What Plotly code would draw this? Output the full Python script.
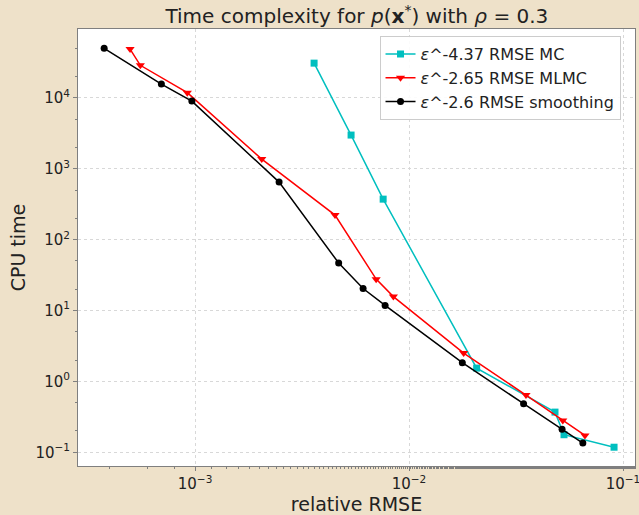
import plotly.graph_objects as go

# Data (relative RMSE, CPU time)
mc_rmse = [3.6e-3, 5.36e-3, 7.57e-3, 0.0207, 0.0481, 0.053, 0.0908]
mc_time = [3.08e4, 2980, 372, 1.54, 0.369, 0.177, 0.118]

mlmc_rmse = [4.97e-4, 5.55e-4, 9.2e-4, 2.05e-3, 4.51e-3, 7.02e-3, 8.45e-3, 0.018, 0.0352, 0.0523, 0.0664]
mlmc_time = [4.87e4, 2.87e4, 1.18e4, 1365, 222, 27.7, 15.7, 2.51, 0.641, 0.282, 0.173]

sm_rmse = [3.76e-4, 6.96e-4, 9.66e-4, 2.47e-3, 4.69e-3, 6.1e-3, 7.73e-3, 0.01774, 0.0343, 0.0519, 0.0649]
sm_time = [4.98e4, 1.56e4, 8980, 647, 46.7, 20.4, 11.8, 1.84, 0.485, 0.212, 0.135]

labels = ["<i>ε</i>^-4.37 RMSE MC", "<i>ε</i>^-2.65 RMSE MLMC", "<i>ε</i>^-2.6 RMSE smoothing"]

x_tickvals = [1e-3, 1e-2, 1e-1]
x_ticktext = ["10<sup>−3</sup>", "10<sup>−2</sup>", "10<sup>−1</sup>"]
y_tickvals = [1e-1, 1e0, 1e1, 1e2, 1e3, 1e4]
y_ticktext = ["10<sup>−1</sup>", "10<sup>0</sup>", "10<sup>1</sup>", "10<sup>2</sup>", "10<sup>3</sup>", "10<sup>4</sup>"]

fig = go.Figure()
fig.add_trace(go.Scatter(x=mc_rmse, y=mc_time, mode="lines+markers", name=labels[0],
                         line=dict(color="#00BFBF", width=1.5),
                         marker=dict(symbol="square", size=7, color="#00BFBF")))
fig.add_trace(go.Scatter(x=mlmc_rmse, y=mlmc_time, mode="lines+markers", name=labels[1],
                         line=dict(color="#FF0000", width=1.5),
                         marker=dict(symbol="triangle-down", size=8, color="#FF0000")))
fig.add_trace(go.Scatter(x=sm_rmse, y=sm_time, mode="lines+markers", name=labels[2],
                         line=dict(color="#000000", width=1.5),
                         marker=dict(symbol="circle", size=7, color="#000000")))

axis_common = dict(
    type="log",
    showline=True, linecolor="#7f7f7f", linewidth=1, mirror=True,
    ticks="outside", ticklen=4, tickcolor="#7f7f7f",
    showgrid=True, gridcolor="#d8d8d8", griddash="dot", gridwidth=1,
    zeroline=False, automargin=False, ticklabeloverflow="allow",
    tickfont=dict(family="DejaVu Sans", size=15, color="#222222"),
    minor=dict(ticks="outside", ticklen=2, tickcolor="#7f7f7f", showgrid=False),
)

fig.update_layout(
    width=639, height=515,
    margin=dict(l=78, r=4, t=29, b=49),
    paper_bgcolor="#EEE1C9",
    plot_bgcolor="#FFFFFF",
    font=dict(family="DejaVu Sans", color="#222222"),
    title=dict(text="Time complexity for <i>p</i>(<b>x</b><sup>*</sup>) with <i>ρ</i> = 0.3",
               x=0.5585, xanchor="center", y=0.968, yanchor="middle",
               font=dict(family="DejaVu Sans", size=20, color="#222222")),
    xaxis=dict(axis_common, range=[-3.547, -0.944], tickvals=x_tickvals, ticktext=x_ticktext,
               title=dict(text="relative RMSE", font=dict(size=19), standoff=2)),
    yaxis=dict(axis_common, range=[-1.193, 4.97], tickvals=y_tickvals, ticktext=y_ticktext,
               title=dict(text="CPU time", font=dict(size=19), standoff=4)),
    legend=dict(x=0.974, y=0.984, xanchor="right", yanchor="top",
                bgcolor="rgba(255,255,255,0.9)", bordercolor="#cccccc", borderwidth=1,
                font=dict(family="DejaVu Sans", size=16, color="#222222"),
                tracegroupgap=0, itemwidth=30),
    showlegend=True,
)

fig.write_html("out.html", config={"displayModeBar": False},
               post_script="document.body.style.margin='0';document.body.style.overflow='hidden';")
